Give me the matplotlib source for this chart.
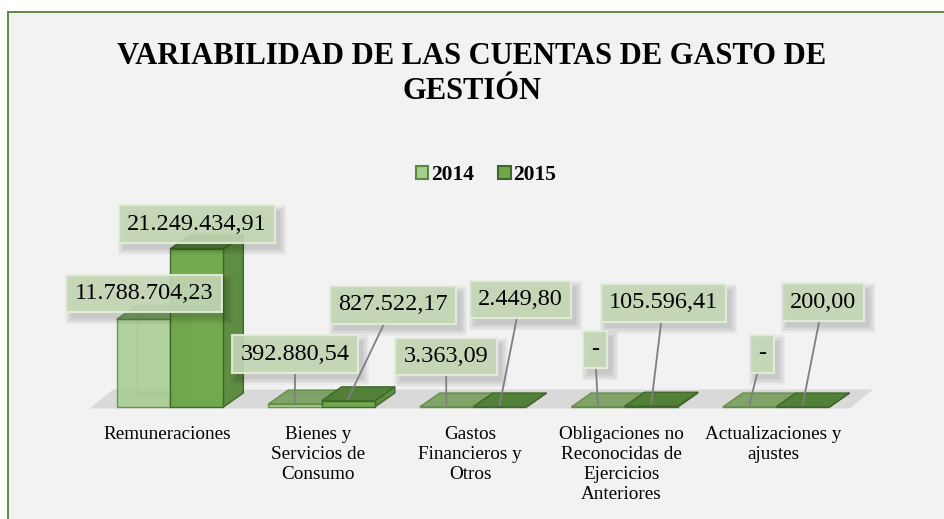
import matplotlib
matplotlib.use("Agg")
import matplotlib.pyplot as plt
from matplotlib.patches import Polygon, Patch, Rectangle
from matplotlib.transforms import IdentityTransform

# ---------------- data ----------------
categories = [
    "Remuneraciones",
    "Bienes y\nServicios de\nConsumo",
    "Gastos\nFinancieros y\nOtros",
    "Obligaciones no\nReconocidas de\nEjercicios\nAnteriores",
    "Actualizaciones y\najustes",
]
series_names = ["2014", "2015"]
values_2014 = [11788704.23, 392880.54, 3363.09, 0.0, 0.0]
values_2015 = [21249434.91, 827522.17, 2449.80, 105596.41, 200.00]
title = "VARIABILIDAD DE LAS CUENTAS DE GASTO DE\nGESTIÓN"

# ---------------- layout / style ----------------
W, H = 944, 519
PX_X = 151.5          # pixels per category
X0_PX = 167.0         # pixel x of first category
BASE_PX = 407.0       # pixel y (from top) of value 0
S = 7.436e-6          # pixels per unit value
BAR_W = 0.352
BAR_OFF = 0.02
DX = 20 / PX_X
DY = 14 / S

# label box centres in pixels (x, y from top), per series/category
label_pos = {
    0: [(144, 293.5), (295, 354), (446, 356.5), (595, 349.5), (762, 354)],
    1: [(197, 224), (393, 305), (520.5, 299.5), (663.5, 303), (823, 302)],
}
leader = {0: [False, True, True, True, True], 1: [False, True, True, True, True]}

serif = ["Liberation Serif", "DejaVu Serif"]
plt.rcParams["font.family"] = serif

fig = plt.figure(figsize=(W / 100, H / 100), dpi=100)
fig.patch.set_facecolor("#f2f2f2")

ax = fig.add_axes([0, 0, 1, 1])
ax.set_xlim(-X0_PX / PX_X, (W - X0_PX) / PX_X)
ax.set_ylim(-(H - BASE_PX) / S, BASE_PX / S)
ax.axis("off")
ax.patch.set_alpha(0)

# white margin and green border of the chart area
ax.add_patch(Rectangle((0, 0), 1, 1, transform=fig.transFigure, facecolor="white",
                       edgecolor="none", zorder=0.1))
ax.add_patch(Rectangle((8 / W, -0.05), 1.0, 1 - 12 / H + 0.05, transform=fig.transFigure,
                       facecolor="#f2f2f2", edgecolor="#548235", lw=1.3, zorder=0.2))

# floor
fl = -0.508
fr = 4.508
v0 = -1.5 / S
fdx = 23 / PX_X
fdy = 19 / S
ax.add_patch(Polygon([(fl, v0), (fr, v0), (fr + fdx, v0 + fdy), (fl + fdx, v0 + fdy)],
                     closed=True, facecolor="#d9d9d9", edgecolor="none", zorder=1))

styles = [
    dict(front="#a6cc8e", top="#6f9a55", side="#82ab68", edge="#5a8a3c", alpha=0.85),
    dict(front="#6fa74b", top="#4f7d33", side="#5a8a3c", edge="#3d6827", alpha=0.97),
]

all_vals = [values_2014, values_2015]
for j, vals in enumerate(all_vals):
    st = styles[j]
    z = 2 + 2 * j
    lefts = [i + BAR_OFF - BAR_W + j * BAR_W for i in range(len(categories))]
    for x0, h in zip(lefts, vals):
        if h > 0 and j == 0:
            ax.plot([x0 + DX, x0 + DX], [DY, h + DY], color=st["edge"], lw=0.8, alpha=0.5, zorder=z - 0.5)
            ax.plot([x0 + DX, x0 + BAR_W + DX], [DY, DY], color=st["edge"], lw=0.8, alpha=0.5, zorder=z - 0.5)
        ax.add_patch(Polygon([(x0 + BAR_W, 0), (x0 + BAR_W + DX, DY), (x0 + BAR_W + DX, h + DY), (x0 + BAR_W, h)],
                             closed=True, facecolor=st["side"], edgecolor=st["edge"], lw=1.0,
                             alpha=st["alpha"], zorder=z))
        ax.add_patch(Polygon([(x0, h), (x0 + BAR_W, h), (x0 + BAR_W + DX, h + DY), (x0 + DX, h + DY)],
                             closed=True, facecolor=st["top"], edgecolor=st["edge"], lw=1.0,
                             alpha=st["alpha"], zorder=z + 0.5))
    ax.bar(lefts, vals, width=BAR_W, align="edge", color=st["front"], edgecolor=st["edge"],
           linewidth=1.0, alpha=st["alpha"], zorder=z + 0.4)

# category labels
for i, c in enumerate(categories):
    ax.text(i, -(426 - BASE_PX) / S, c, ha="center", va="top", fontsize=13.8,
            color="#000000", linespacing=1.24, zorder=10)


def fmt(v):
    if v == 0:
        return "-"
    s = f"{v:,.2f}"
    return s.replace(",", "X").replace(".", ",").replace("X", ".")


anns = []
for j, vals in enumerate(all_vals):
    for i, v in enumerate(vals):
        cx, cy = label_pos[j][i]
        xc = i + BAR_OFF - BAR_W + j * BAR_W + BAR_W / 2
        xy = (xc, v + 0.15 * DY)
        kw = {}
        if leader[j][i]:
            kw["arrowprops"] = dict(arrowstyle="-", color="#7f7f7f", lw=1.3,
                                    shrinkA=0, shrinkB=0)
        a = ax.annotate(fmt(v), xy=xy, xytext=(cx, H - cy), textcoords="figure pixels",
                        ha="center", va="center", fontsize=17.5, color="#000000",
                        bbox=dict(boxstyle="square,pad=0.34", facecolor="#c5d8b6",
                                  edgecolor="#e4eddc", lw=1.5, alpha=0.9),
                        zorder=12, **kw)
        anns.append(a)

# title
fig.text(0.5, 1 - 74 / H, title, ha="center", va="center", fontsize=22,
         fontweight="bold", linespacing=1.27, color="#000000")

# legend
handles = [Patch(facecolor=styles[k]["front"], edgecolor=styles[k]["edge"], lw=1.5, label=series_names[k])
           for k in range(2)]
fig.legend(handles=handles, loc="center", bbox_to_anchor=(486 / W, 1 - 175 / H), ncol=2,
           frameon=False, prop=dict(family=serif, weight="bold", size=15.5),
           handlelength=0.58, handleheight=0.58, handletextpad=0.12, columnspacing=1.15)

# soft shadows behind the data-label boxes
fig.canvas.draw()
renderer = fig.canvas.get_renderer()
for a in anns:
    bb = a.get_bbox_patch().get_window_extent(renderer)
    for k in range(5):
        g = 1.5 * k
        ax.add_patch(Rectangle((bb.x0 + 5 - g, bb.y0 - 6 - g), bb.width + 2 * g, bb.height + 2 * g,
                               transform=IdentityTransform(), facecolor="#000000",
                               edgecolor="none", alpha=0.035, zorder=11))

fig.savefig("out.png", dpi=100, facecolor="white")
